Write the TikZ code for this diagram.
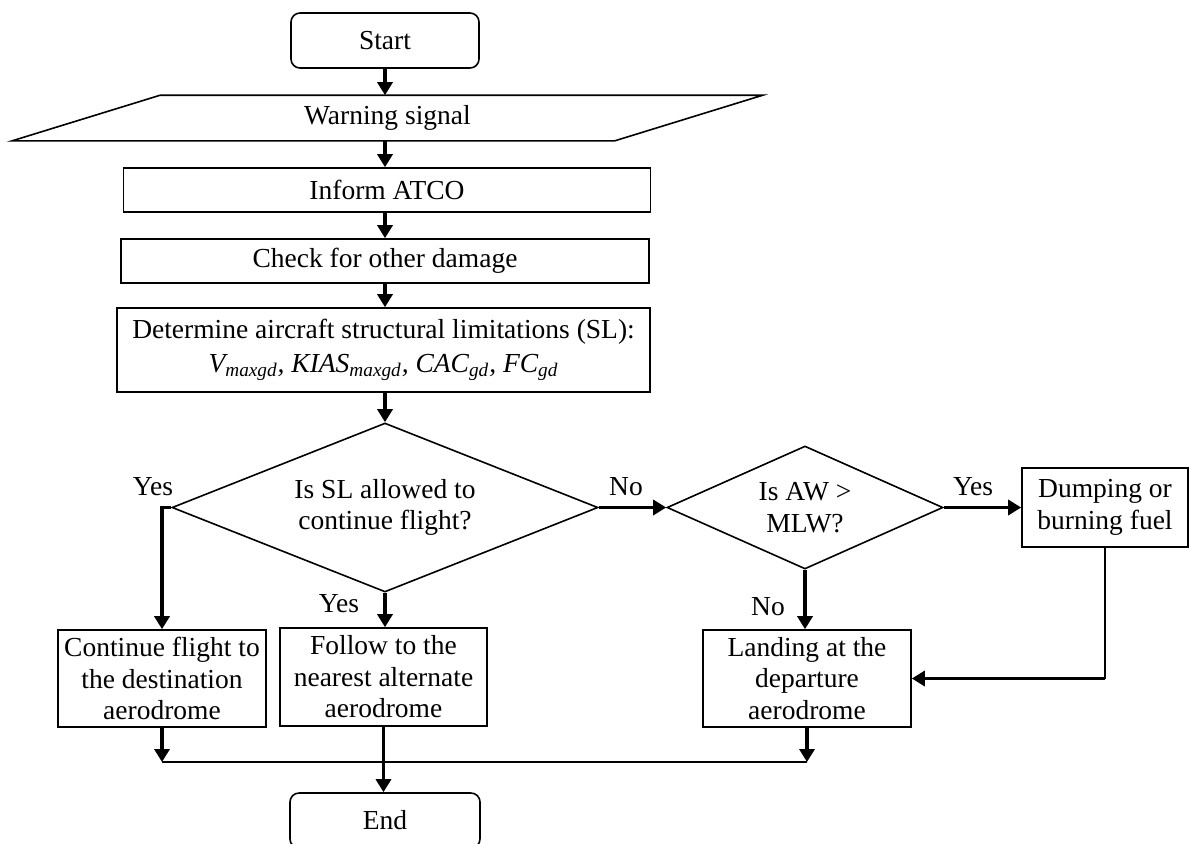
\documentclass[tikz,border=0pt]{standalone}
\usepackage{fontspec}
\setmainfont{Liberation Serif}
\usetikzlibrary{shapes.geometric,arrows.meta}

\tikzset{
  base/.style={font=\fontsize{13.75}{15.75}\selectfont, align=center, inner sep=0pt, line width=0.8pt},
  term/.style={base, draw, rounded corners=4.5pt, minimum width=94pt, minimum height=27.5pt},
  proc/.style={base, draw, minimum height=22pt},
  decide/.style={base, draw, diamond},
  lbl/.style={font=\fontsize{13.75}{15.75}\selectfont, inner sep=0pt},
  arr/.style={line width=1.9pt, -{Triangle[length=6.5pt,width=7.5pt]}},
  link/.style={line width=0.7pt}
}

\begin{document}
\begin{tikzpicture}[x=0.5pt, y=-0.5pt]
  \useasboundingbox (0,0) rectangle (1195,843);

  % main column
  \node[term] (start) at (385,40.5) {Start};
  \node[base, minimum width=300.5pt, minimum height=22pt] (warn) at (387.5,118) {Warning signal};
  \draw[line width=0.8pt] ([xshift=-37pt]warn.south west) -- ([xshift=37pt]warn.north west)
    -- ([xshift=37pt]warn.north east) -- ([xshift=-37pt]warn.south east) -- cycle;
  \node[proc, minimum width=263.5pt] (atco) at (387,190) {Inform ATCO};
  \node[proc, minimum width=264pt] (check) at (385,261) {Check for other damage};
  \node[proc, minimum width=266.5pt, minimum height=42pt] (limits) at (383.5,350)
    {Determine aircraft structural limitations (SL):\\[1pt]
     \textit{V\textsubscript{maxgd}, KIAS\textsubscript{maxgd}, CAC\textsubscript{gd}, FC\textsubscript{gd}}};

  % decisions
  \node[decide, aspect=2.5, minimum width=213pt, minimum height=84.5pt] (slok) at (385,507.5)
    {Is SL allowed to\\continue flight?};
  \node[decide, aspect=2.24, minimum width=138pt, minimum height=61.5pt] (awmlw) at (805,507.5)
    {Is AW >\\MLW?};
  \node[proc, minimum width=83pt, minimum height=39.5pt] (dump) at (1105,507.5)
    {Dumping or\\burning fuel};

  % outcomes
  \node[proc, minimum width=104pt, minimum height=48.5pt] (cont) at (162,678.5)
    {Continue flight to\\the destination\\aerodrome};
  \node[proc, minimum width=103.5pt, minimum height=49pt] (follow) at (383.5,677)
    {Follow to the\\nearest alternate\\aerodrome};
  \node[proc, minimum width=104pt, minimum height=48.5pt] (land) at (807,678.5)
    {Landing at the\\departure\\aerodrome};
  \node[term, minimum width=95pt] (stop) at (385,820.5) {End};
  \coordinate (merge) at (385,762);

  % arrows
  \draw[arr] (start.south) -- (start.south |- warn.north);
  \draw[arr] (start.south |- warn.south) -- (start.south |- atco.north);
  \draw[arr] (start.south |- atco.south) -- (start.south |- check.north);
  \draw[arr] (start.south |- check.south) -- (start.south |- limits.north);
  \draw[arr] (start.south |- limits.south) -- (slok.north);

  \draw[arr] (slok.west) -| (cont.north);
  \draw[arr] (slok.south) -- (slok.south |- follow.north);
  \draw[arr] (slok.east) -- (awmlw.west);
  \draw[arr] (awmlw.east) -- (dump.west);
  \draw[arr] (awmlw.south) -- (awmlw.south |- land.north);
  \draw[link] (dump.south) -- (dump.south |- land.east);
  \draw[arr] (dump.south |- land.east) -- (land.east);

  \draw[arr] (cont.south) -- (cont.south |- merge);
  \draw[arr] (land.south) -- (land.south |- merge);
  \draw[link] (cont.south |- merge) -- (land.south |- merge);
  \draw[arr] (follow.south) -- (follow.south |- stop.north);

  % labels
  \node[lbl] (yes1) at (153,487) {Yes};
  \node[lbl] (yes2) at (339,604) {Yes};
  \node[lbl] (no1) at (626,487) {No};
  \node[lbl] (yes3) at (973,487) {Yes};
  \node[lbl] (no2) at (768,607) {No};
\end{tikzpicture}
\end{document}
